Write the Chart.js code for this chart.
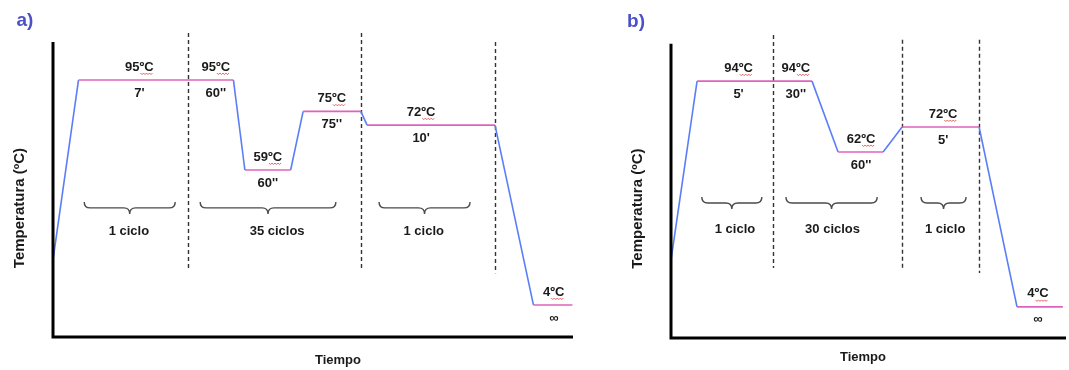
<!DOCTYPE html>
<html>
<head>
<meta charset="utf-8">
<script src="https://cdn.jsdelivr.net/npm/chart.js@4.4.1/dist/chart.umd.min.js"></script>
<style>
  body { margin: 0; background: #fff; width: 1069px; height: 370px; overflow: hidden; position: relative; }
  .panel { position: absolute; top: 0; height: 370px; }
</style>
</head>
<body>
<div class="panel" style="left:0;width:600px"><canvas id="chartA"></canvas></div>
<div class="panel" style="left:600px;width:469px"><canvas id="chartB"></canvas></div>
<script>
// perfil a) - tiempo y nivel esquematicos (0-100)
const timeA = [0, 4.9, 34.7, 36.9, 45.7, 48.1, 59.2, 60.4, 85.0, 92.4, 99.9];
const levelA = [25.1, 83.7, 83.7, 54.4, 54.4, 73.5, 73.5, 69.0, 69.0, 10.4, 10.4];
const tempsA = ["95ºC", "95ºC", "59ºC", "75ºC", "72ºC", "4ºC"];
const timesA = ["7'", "60''", "60''", "75''", "10'", "∞"];
const cyclesA = ["1 ciclo", "35 ciclos", "1 ciclo"];

// perfil b)
const timeB = [0, 6.6, 35.7, 42.3, 53.7, 58.5, 78.0, 87.6, 99.2];
const levelB = [25.3, 83.4, 83.4, 60.4, 60.4, 68.5, 68.5, 10.1, 10.1];
const tempsB = ["94ºC", "94ºC", "62ºC", "72ºC", "4ºC"];
const timesB = ["5'", "30''", "60''", "5'", "∞"];
const cyclesB = ["1 ciclo", "30 ciclos", "1 ciclo"];

const PINK = "#df62bd";
const BLUE = "#5b7ef7";
const FONT = "'Liberation Sans', Arial, sans-serif";

// where the notes go (in axis units)
const layoutA = {
  panel: "a)", panelPos: [25, 21],
  stepIdx: [1, 1, 3, 5, 7, 9],
  stepX: [16.6, 31.3, 41.3, 53.6, 70.8, 96.3],
  dividers: [[26.0, 99.0, 21.8], [59.2, 99.0, 21.8], [85.0, 96.1, 20.8]],
  braces: [[6.0, 23.5], [28.3, 54.4], [62.7, 80.2]],
  braceTop: 44.0, cycleX: [14.6, 43.1, 71.3], cycleY: 34.5,
  axisTop: 96.1, yTitleY: 42, xTitleX: 54.8, xTitleOff: 23
};
const layoutB = {
  panel: "b)", panelPos: [36, 22],
  stepIdx: [1, 1, 3, 5, 7],
  stepX: [17.1, 31.6, 48.1, 68.9, 92.9],
  dividers: [[25.8, 98.4, 22.7], [58.5, 96.8, 22.7], [78.0, 96.8, 21.1]],
  braces: [[7.8, 23.0], [29.1, 52.2], [63.3, 74.7]],
  braceTop: 45.8, cycleX: [16.2, 40.9, 69.4], cycleY: 35.4,
  axisTop: 95.5, yTitleY: 42, xTitleX: 48.6, xTitleOff: 19
};

function squiggle(ctx, x0, x1, y) {
  ctx.save();
  ctx.strokeStyle = "#e23a3a";
  ctx.lineWidth = 0.8;
  ctx.beginPath();
  let up = true;
  ctx.moveTo(x0, y);
  for (let x = x0 + 1.5; x <= x1; x += 1.5) {
    ctx.lineTo(x, up ? y + 1.5 : y);
    up = !up;
  }
  ctx.stroke();
  ctx.restore();
}

const cyclePlugin = {
  id: "cyclePlugin",
  beforeDatasetsDraw(chart) {
    const L = chart.options.plugins.cyclePlugin.layout;
    const ctx = chart.ctx, xs = chart.scales.x, ys = chart.scales.y;
    ctx.save();
    ctx.strokeStyle = "#333";
    ctx.lineWidth = 1.4;
    ctx.setLineDash([4, 3]);
    L.dividers.forEach(d => {
      const px = Math.round(xs.getPixelForValue(d[0])) + 0.5;
      ctx.beginPath();
      ctx.moveTo(px, ys.getPixelForValue(d[1]));
      ctx.lineTo(px, ys.getPixelForValue(d[2]));
      ctx.stroke();
    });
    ctx.restore();
  },
  afterDatasetsDraw(chart) {
    const o = chart.options.plugins.cyclePlugin;
    const L = o.layout;
    const ctx = chart.ctx, xs = chart.scales.x, ys = chart.scales.y;
    const area = chart.chartArea;

    // ejes
    ctx.save();
    ctx.strokeStyle = "#000";
    ctx.lineWidth = 3;
    ctx.beginPath();
    ctx.moveTo(xs.getPixelForValue(0), ys.getPixelForValue(L.axisTop));
    ctx.lineTo(xs.getPixelForValue(0), ys.getPixelForValue(0));
    ctx.lineTo(area.right, ys.getPixelForValue(0));
    ctx.stroke();

    ctx.fillStyle = "#1a1a1a";
    ctx.textAlign = "center";
    ctx.textBaseline = "middle";
    ctx.font = "bold 13px " + FONT;

    // temperatura y tiempo de cada paso
    L.stepIdx.forEach((idx, i) => {
      const px = xs.getPixelForValue(L.stepX[i]);
      const py = ys.getPixelForValue(o.levels[idx]);
      const t = o.temps[i];
      ctx.fillText(t, px, py - 13);
      const w = ctx.measureText(t).width;
      const wn = ctx.measureText(t.replace("ºC", "")).width;
      squiggle(ctx, px - w / 2 + wn + 1, px + w / 2, py - 7);
      ctx.fillText(o.times[i], px, py + 13);
    });

    // llaves de ciclos
    ctx.strokeStyle = "#4a4a4a";
    ctx.lineWidth = 1.4;
    L.braces.forEach((b, i) => {
      const x0 = xs.getPixelForValue(b[0]), x1 = xs.getPixelForValue(b[1]);
      const xm = (x0 + x1) / 2;
      const yt = ys.getPixelForValue(L.braceTop);
      const h = 12, r = 6, ym = yt + h / 2;
      ctx.beginPath();
      ctx.moveTo(x0, yt);
      ctx.quadraticCurveTo(x0, ym, x0 + r, ym);
      ctx.lineTo(xm - r, ym);
      ctx.quadraticCurveTo(xm, ym, xm, yt + h);
      ctx.quadraticCurveTo(xm, ym, xm + r, ym);
      ctx.lineTo(x1 - r, ym);
      ctx.quadraticCurveTo(x1, ym, x1, yt);
      ctx.stroke();
      ctx.fillText(o.cycles[i], xs.getPixelForValue(L.cycleX[i]), ys.getPixelForValue(L.cycleY));
    });

    // titulos
    ctx.fillText("Tiempo", xs.getPixelForValue(L.xTitleX), ys.getPixelForValue(0) + L.xTitleOff);
    ctx.save();
    ctx.translate(area.left - 33, ys.getPixelForValue(L.yTitleY));
    ctx.rotate(-Math.PI / 2);
    ctx.font = "bold 15px " + FONT;
    ctx.fillText("Temperatura (ºC)", 0, 0);
    ctx.restore();

    ctx.fillStyle = "#4b50c8";
    ctx.font = "bold 19px " + FONT;
    ctx.fillText(L.panel, L.panelPos[0], L.panelPos[1]);
    ctx.restore();
  }
};

function makeChart(id, times, levels, temps, steps, cycles, layout, pad) {
  new Chart(document.getElementById(id), {
    type: "line",
    data: {
      datasets: [{
        data: times.map((t, i) => ({ x: t, y: levels[i] })),
        borderWidth: 1.6,
        pointRadius: 0,
        tension: 0,
        clip: false,
        segment: {
          borderColor: c => c.p0.parsed.y === c.p1.parsed.y ? PINK : BLUE
        }
      }]
    },
    options: {
      responsive: true,
      maintainAspectRatio: false,
      animation: false,
      layout: { padding: pad },
      scales: {
        x: { type: "linear", min: 0, max: 100, display: false },
        y: { min: 0, max: 100, display: false }
      },
      plugins: {
        legend: { display: false },
        tooltip: { enabled: false },
        cyclePlugin: { layout: layout, levels: levels, temps: temps, times: steps, cycles: cycles }
      }
    },
    plugins: [cyclePlugin]
  });
}

makeChart("chartA", timeA, levelA, tempsA, timesA, cyclesA, layoutA,
  { left: 53, right: 27, top: 30, bottom: 33 });
makeChart("chartB", timeB, levelB, tempsB, timesB, cyclesB, layoutB,
  { left: 71, right: 3, top: 30, bottom: 32 });
</script>
</body>
</html>
